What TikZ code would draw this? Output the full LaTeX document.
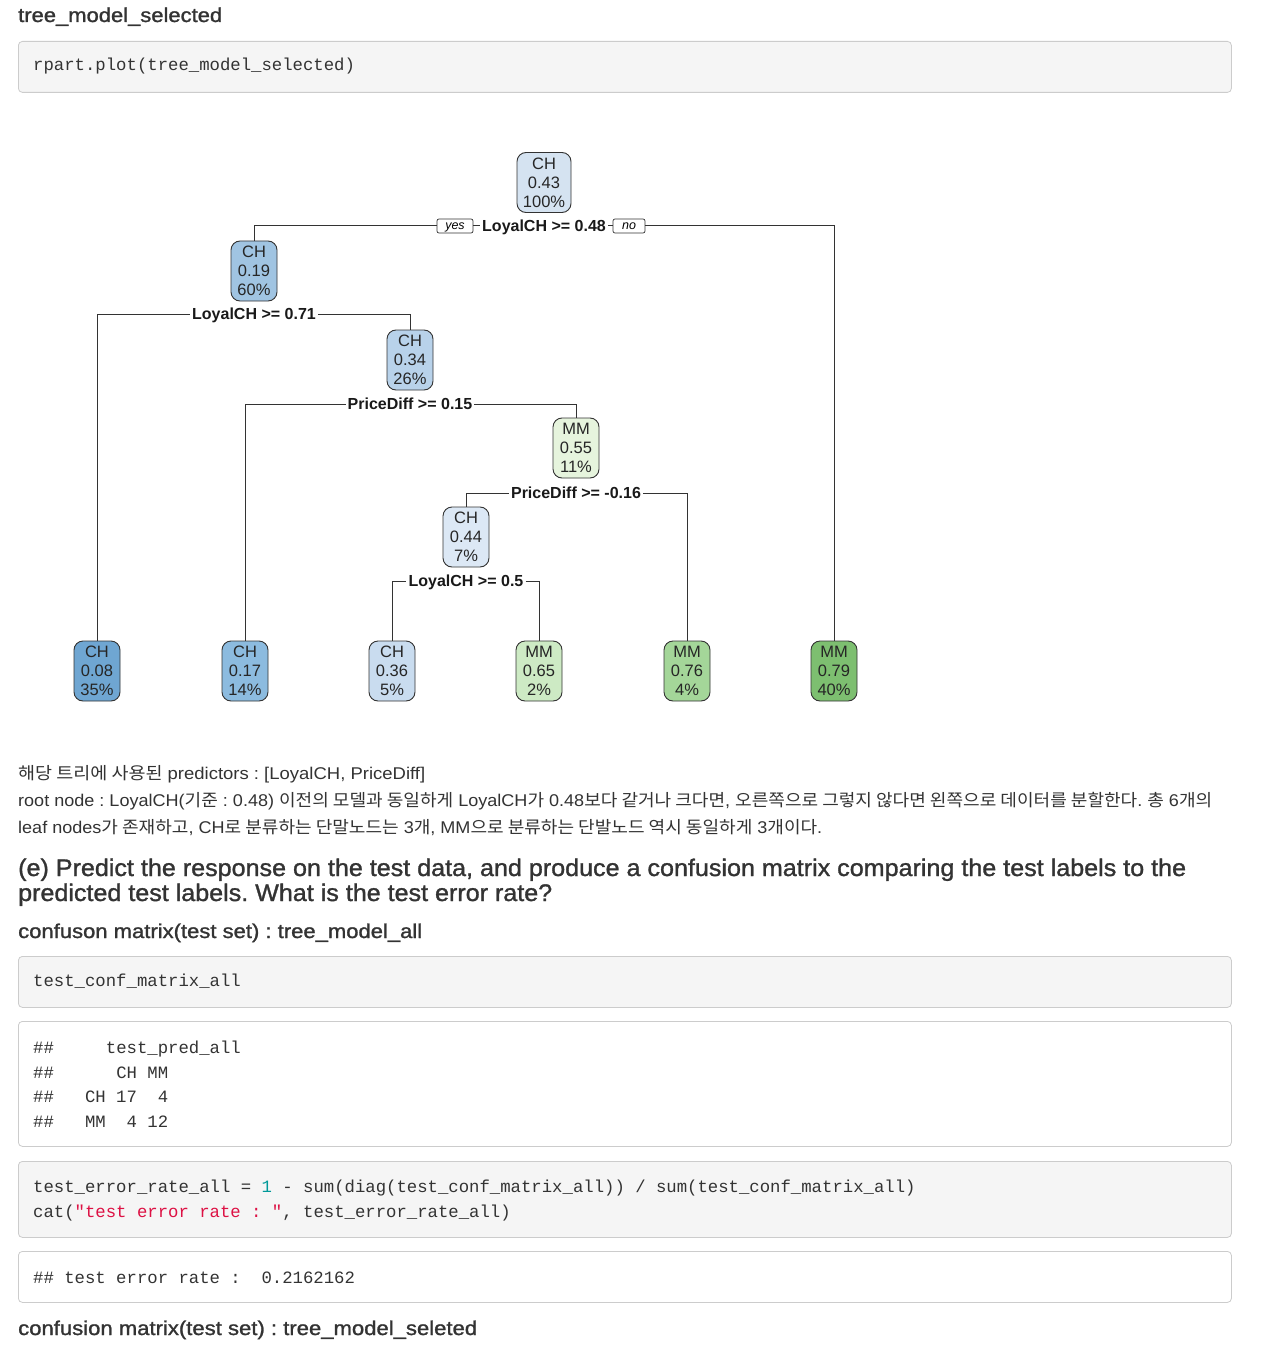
\documentclass[tikz,border=0pt]{standalone}
\usepackage{fontspec}
\usepackage{graphicx}
\setmainfont{Liberation Sans}
\setmonofont{Liberation Mono}
\newfontfamily\kr{Noto Sans CJK KR}
\newfontfamily\hfont[FakeBold=1.2]{Liberation Sans}
\newcommand\fitto[2]{\resizebox{#1}{\height}{#2}}
\frenchspacing
\definecolor{txt}{HTML}{333333}
\definecolor{codebg}{HTML}{F5F5F5}
\definecolor{codeborder}{HTML}{CCCCCC}
\definecolor{cnum}{HTML}{009999}
\definecolor{cstr}{HTML}{DD1144}
\definecolor{b043}{HTML}{D5E3F1}
\definecolor{b019}{HTML}{A0C4E2}
\definecolor{b034}{HTML}{B8D2EA}
\definecolor{b044}{HTML}{DCE8F5}
\definecolor{b008}{HTML}{6FA6D2}
\definecolor{b017}{HTML}{8CBBDF}
\definecolor{b036}{HTML}{C9DCEF}
\definecolor{g055}{HTML}{E6F4DD}
\definecolor{g065}{HTML}{CDEAC4}
\definecolor{g076}{HTML}{A4D699}
\definecolor{g079}{HTML}{7DBF70}
\tikzset{
  treenode/.style={draw=black!80, rounded corners=9pt, line width=0.9pt, minimum width=46pt, minimum height=60pt, inner xsep=5pt, inner ysep=0pt, align=center, font=\fontsize{16.5}{19}\selectfont, text=black!85},
  splitlab/.style={fill=white, inner xsep=2pt, inner ysep=1pt, text height=11.5pt, text depth=0pt, font=\bfseries\fontsize{16}{18}\selectfont, text=black!90},
  yesno/.style={draw=black!80, fill=white, rounded corners=2pt, line width=0.7pt, font=\itshape\fontsize{12.5}{13}\selectfont, minimum height=14pt, inner sep=0pt, text height=9pt, text depth=2.5pt},
  edge/.style={draw=black!80, line width=1pt},
  codebox/.style={draw=codeborder, fill=codebg, rounded corners=4pt, line width=0.8pt, anchor=north west, minimum width=1213pt, inner sep=0pt},
  outbox/.style={draw=codeborder, fill=white, rounded corners=4pt, line width=0.8pt, anchor=north west, minimum width=1213pt, inner sep=0pt},
  code/.style={anchor=base west, inner sep=0pt, font=\ttfamily\fontsize{17.3}{20}\selectfont, text=txt},
  heading/.style={anchor=base west, inner sep=0pt, font=\hfont\fontsize{20}{24}\selectfont, text=txt},
  bighead/.style={anchor=base west, inner sep=0pt, font=\hfont\fontsize{24}{28}\selectfont, text=txt},
  body/.style={anchor=base west, inner sep=0pt, font=\fontsize{17}{20}\selectfont, text=txt}
}
\begin{document}
\begin{tikzpicture}[x=1pt,y=-1pt]
\useasboundingbox (0,0) rectangle (1268,1348);
\fill[white] (0,0) rectangle (1268,1348);

% heading and first code block
\node[heading] (h1) at (18,22) {\fitto{204pt}{tree\_model\_selected}};
\node[codebox, minimum height=51pt] (cb1) at (18,41) {};
\node[code] (c1) at (33,71) {rpart.plot(tree\_model\_selected)};

% tree nodes
\node[treenode, fill=b043, minimum width=54pt] (r) at (544,182.5) {CH\\0.43\\100\%};
\node[treenode, fill=b019] (n2) at (254,271) {CH\\0.19\\60\%};
\node[treenode, fill=b034] (n3) at (410,360) {CH\\0.34\\26\%};
\node[treenode, fill=g055] (n4) at (576,448) {MM\\0.55\\11\%};
\node[treenode, fill=b044] (n5) at (466,537) {CH\\0.44\\7\%};
\node[treenode, fill=b008] (l1) at (97,671) {CH\\0.08\\35\%};
\node[treenode, fill=b017] (l2) at (245,671) {CH\\0.17\\14\%};
\node[treenode, fill=b036] (l3) at (392,671) {CH\\0.36\\5\%};
\node[treenode, fill=g065] (l4) at (539,671) {MM\\0.65\\2\%};
\node[treenode, fill=g076] (l5) at (687,671) {MM\\0.76\\4\%};
\node[treenode, fill=g079] (l6) at (834,671) {MM\\0.79\\40\%};

% split labels
\node[splitlab] (s1) at (544,226) {LoyalCH >= 0.48};
\node[yesno, minimum width=36pt] (yes) at (455,226) {yes};
\node[yesno, minimum width=32pt] (no) at (629,226) {no};
\node[splitlab] (s2) at (254,314) {LoyalCH >= 0.71};
\node[splitlab] (s3) at (410,404) {PriceDiff >= 0.15};
\node[splitlab] (s4) at (576,493) {PriceDiff >= -0.16};
\node[splitlab] (s5) at (466,581) {LoyalCH >= 0.5};

% connectors
\draw[edge] (n2.north) |- (yes.west);
\draw[edge] (yes.east) -- (s1.west);
\draw[edge] (s1.east) -- (no.west);
\draw[edge] (no.east) -| (l6.north);
\draw[edge] (l1.north) |- (s2.west);
\draw[edge] (s2.east) -| (n3.north);
\draw[edge] (l2.north) |- (s3.west);
\draw[edge] (s3.east) -| (n4.north);
\draw[edge] (n5.north) |- (s4.west);
\draw[edge] (s4.east) -| (l5.north);
\draw[edge] (l3.north) |- (s5.west);
\draw[edge] (s5.east) -| (l4.north);

% body text
\node[body] (p1) at (18,779) {\fitto{407pt}{{\kr 해당 트리에 사용된} predictors : [LoyalCH, PriceDiff]}};
\node[body] (p2) at (18,806) {\fitto{1194pt}{root node : LoyalCH({\kr 기준} : 0.48) {\kr 이전의 모델과 동일하게} LoyalCH{\kr 가} 0.48{\kr 보다 같거나 크다면}, {\kr 오른쪽으로 그렇지 않다면 왼쪽으로 데이터를 분할한다}. {\kr 총} 6{\kr 개의}}};
\node[body] (p3) at (18,833) {\fitto{804pt}{leaf nodes{\kr 가 존재하고}, CH{\kr 로 분류하는 단말노드는} 3{\kr 개}, MM{\kr 으로 분류하는 단발노드 역시 동일하게} 3{\kr 개이다}.}};

% section (e)
\node[bighead] (e1) at (18,876) {\fitto{1168pt}{(e) Predict the response on the test data, and produce a confusion matrix comparing the test labels to the}};
\node[bighead] (e2) at (18,901) {\fitto{534pt}{predicted test labels. What is the test error rate?}};
\node[heading] (h2) at (18,938) {\fitto{404pt}{confuson matrix(test set) : tree\_model\_all}};

\node[codebox, minimum height=51pt] (cb2) at (18,956) {};
\node[code] (c2) at (33,986) {test\_conf\_matrix\_all};

\node[outbox, minimum height=125pt] (ob1) at (18,1021) {};
\node[code] (o1) at (33,1053) {\#\#~~~~~test\_pred\_all};
\node[code] (o2) at (33,1078) {\#\#~~~~~~CH MM};
\node[code] (o3) at (33,1102) {\#\#~~~CH 17~~4};
\node[code] (o4) at (33,1127) {\#\#~~~MM~~4 12};

\node[codebox, minimum height=76pt] (cb3) at (18,1161) {};
\node[code] (c3) at (33,1192) {test\_error\_rate\_all = {\color{cnum}1} - sum(diag(test\_conf\_matrix\_all)) / sum(test\_conf\_matrix\_all)};
\node[code] (c4) at (33,1217) {cat({\color{cstr}"test error rate : "}, test\_error\_rate\_all)};

\node[outbox, minimum height=51pt] (ob2) at (18,1251) {};
\node[code] (o5) at (33,1283) {\#\# test error rate :~~0.2162162};

\node[heading] (h3) at (18,1335) {\fitto{459pt}{confusion matrix(test set) : tree\_model\_seleted}};
\end{tikzpicture}
\end{document}
